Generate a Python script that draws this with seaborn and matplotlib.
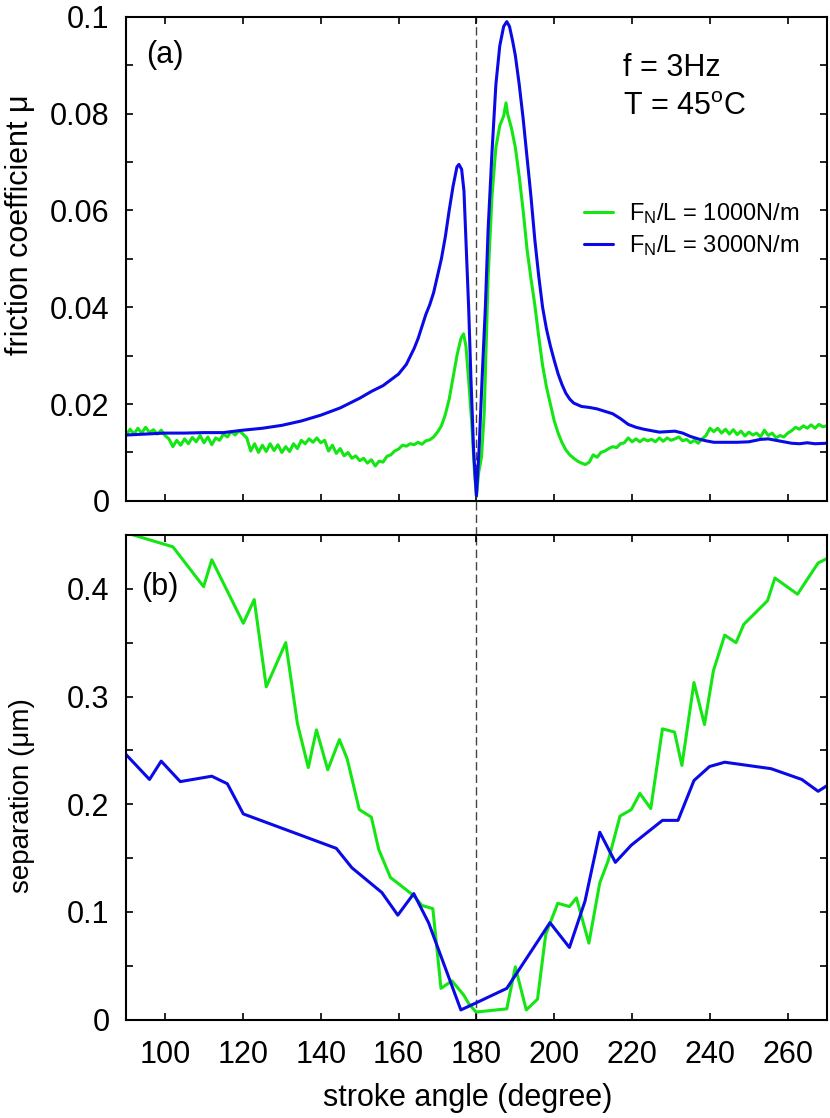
import numpy as np
import pandas as pd
import seaborn as sns
import matplotlib
matplotlib.use('Agg')
import matplotlib.pyplot as plt
from matplotlib.ticker import MultipleLocator, FuncFormatter

# (a) friction coefficient vs stroke angle
ang_a_1000 = [90, 91, 92, 93, 94, 95, 96, 97, 98, 99, 100, 101, 102, 103, 104, 105, 106, 107, 108, 109,
              110, 111, 112, 113, 114, 115, 116, 117, 118, 119, 120, 121, 122, 123, 124, 125, 126, 127, 128, 129,
              130, 131, 132, 133, 134, 135, 136, 137, 138, 139, 140, 141, 142, 143, 144, 145, 146, 147, 148, 149,
              150, 151, 152, 153, 154, 155, 156, 157, 158, 159, 160, 161, 162, 163, 164, 165, 166, 167, 168, 169,
              170, 171, 172, 173, 174, 175, 176, 176.7, 177.3, 178, 178.8, 179.5, 180, 180.6, 181.3, 182, 183, 184,
              185, 186, 187, 187.6, 188, 189, 190, 191, 192, 193, 194, 195, 196, 197, 198, 199, 200, 201, 202, 203,
              204, 205, 206, 207, 208, 209, 210, 211, 212, 213, 214, 215, 216, 217, 218, 219, 220, 221, 222, 223,
              224, 225, 226, 227, 228, 229, 230, 231, 232, 233, 234, 235, 236, 237, 238, 239, 240, 241, 242, 243,
              244, 245, 246, 247, 248, 249, 250, 251, 252, 253, 254, 255, 256, 257, 258, 259, 260, 261, 262, 263,
              264, 265, 266, 267, 268, 269, 270]
mu_1000 = [0.0135, 0.0148, 0.0138, 0.0150, 0.0140, 0.0152, 0.0141, 0.0147, 0.0138, 0.0146, 0.0135, 0.0128, 0.0112, 0.0125, 0.0115, 0.0128, 0.0118, 0.0131, 0.0122, 0.0135,
           0.0120, 0.0132, 0.0116, 0.0130, 0.0125, 0.0138, 0.0132, 0.0143, 0.0136, 0.0145, 0.0138, 0.0130, 0.0103, 0.0118, 0.0100, 0.0115, 0.0102, 0.0118, 0.0104, 0.0116,
           0.0100, 0.0112, 0.0102, 0.0118, 0.0108, 0.0125, 0.0118, 0.0128, 0.0121, 0.0130, 0.0120, 0.0125, 0.0103, 0.0115, 0.0098, 0.0108, 0.0093, 0.0100, 0.0088, 0.0093,
           0.0083, 0.0088, 0.0078, 0.0085, 0.0072, 0.0082, 0.0080, 0.0092, 0.0095, 0.0103, 0.0107, 0.0115, 0.0113, 0.0118, 0.0116, 0.0121, 0.0117, 0.0124, 0.0126, 0.0132,
           0.0142, 0.0155, 0.0178, 0.0210, 0.0255, 0.0300, 0.0335, 0.0345, 0.0320, 0.0250, 0.0160, 0.0060, 0.0010, 0.0060, 0.0090, 0.0180, 0.0460, 0.0630,
           0.0730, 0.0775, 0.0795, 0.0822, 0.0800, 0.0770, 0.0730, 0.0670, 0.0600, 0.0520, 0.0460, 0.0405, 0.0340, 0.0280, 0.0235, 0.0200, 0.0165, 0.0140, 0.0120, 0.0105,
           0.0095, 0.0088, 0.0082, 0.0078, 0.0075, 0.0080, 0.0095, 0.0090, 0.0100, 0.0103, 0.0108, 0.0112, 0.0110, 0.0118, 0.0120, 0.0130, 0.0122, 0.0128, 0.0122, 0.0128,
           0.0124, 0.0127, 0.0122, 0.0130, 0.0123, 0.0130, 0.0125, 0.0128, 0.0132, 0.0124, 0.0127, 0.0120, 0.0125, 0.0119, 0.0128, 0.0135, 0.0150, 0.0143, 0.0150, 0.0140,
           0.0148, 0.0138, 0.0147, 0.0137, 0.0144, 0.0134, 0.0142, 0.0136, 0.0140, 0.0132, 0.0146, 0.0135, 0.0140, 0.0130, 0.0135, 0.0132, 0.0140, 0.0145, 0.0152, 0.0148,
           0.0155, 0.0150, 0.0157, 0.0150, 0.0158, 0.0153, 0.0155]

ang_a_3000 = [90, 95, 100, 105, 110, 115, 120, 125, 130, 135, 140, 145, 150, 153, 156, 158, 160, 162, 164, 165,
              166, 167, 168, 169, 170, 171, 172, 173, 174, 175, 175.5, 176.2, 176.8, 177.3, 178, 178.6, 179.3, 180,
              180.7, 181.5, 182.3, 183, 184, 185, 186, 187, 187.8, 188.5, 189.3, 190, 191, 192, 193, 194, 195, 196,
              197, 198, 199, 200, 201, 202, 203, 204, 205, 207, 209, 211, 213, 215, 217, 219, 221, 223, 225, 227,
              229, 231, 233, 235, 237, 239, 241, 243, 245, 247, 250, 253, 255, 257, 259, 261, 263, 265, 267, 270]
mu_3000 = [0.0136, 0.0138, 0.0140, 0.0140, 0.0141, 0.0141, 0.0146, 0.0150, 0.0156, 0.0165, 0.0177, 0.0192, 0.0212, 0.0226, 0.0238, 0.0250, 0.0262, 0.0282, 0.0315, 0.0335,
           0.0360, 0.0385, 0.0405, 0.0430, 0.0465, 0.0500, 0.0545, 0.0600, 0.0650, 0.0690, 0.0695, 0.0685, 0.0640, 0.0540, 0.0400, 0.0250, 0.0100, 0.0010,
           0.0110, 0.0260, 0.0400, 0.0560, 0.0720, 0.0860, 0.0940, 0.0980, 0.0990, 0.0980, 0.0950, 0.0920, 0.0860, 0.0790, 0.0710, 0.0630, 0.0540, 0.0465,
           0.0400, 0.0355, 0.0320, 0.0290, 0.0262, 0.0240, 0.0222, 0.0210, 0.0202, 0.0195, 0.0193, 0.0190, 0.0185, 0.0180, 0.0170, 0.0158, 0.0152, 0.0148, 0.0145, 0.0142,
           0.0143, 0.0144, 0.0140, 0.0133, 0.0128, 0.0124, 0.0121, 0.0121, 0.0121, 0.0121, 0.0122, 0.0127, 0.0128, 0.0125, 0.0122, 0.0119, 0.0118, 0.0120, 0.0118, 0.0119]

# (b) separation vs stroke angle
ang_b_1000 = [90, 102, 109.9, 112, 120.1, 122.9, 126, 131, 134, 136.8, 138.9, 141.8, 144.8, 146.8, 149.9, 153, 154.9, 157.9,
              160.4, 163.9, 166, 168.8, 170.9, 173.7, 176.7, 178, 179.9, 187.8, 190, 192.8, 195.7, 197.8, 200.9, 203.9,
              205.7, 208.9, 211.7, 213.9, 216.9, 219.8, 222, 224.8, 227.8, 230.9, 232.8, 235.9, 238.6, 240.9, 243.8,
              246.7, 248.7, 254.8, 256.7, 262.5, 267.8, 270]
sep_1000 = [0.452, 0.439, 0.402, 0.427, 0.368, 0.390, 0.309, 0.350, 0.275, 0.234, 0.269, 0.232, 0.260, 0.242, 0.195, 0.188, 0.158, 0.132,
            0.125, 0.115, 0.106, 0.103, 0.029, 0.036, 0.023, 0.015, 0.007, 0.010, 0.049, 0.009, 0.019, 0.079, 0.108, 0.105,
            0.113, 0.071, 0.127, 0.148, 0.189, 0.195, 0.210, 0.196, 0.270, 0.267, 0.236, 0.313, 0.274, 0.324, 0.357,
            0.350, 0.367, 0.389, 0.410, 0.395, 0.424, 0.428]

ang_b_3000 = [90, 96, 99, 103.9, 112, 116, 120.1, 144, 148, 155.7, 159.8, 163.9, 167.7, 176, 179.6, 187.8, 198.9, 203.9,
              207.9, 211.7, 215.7, 219.8, 227.8, 231.8, 235.9, 239.9, 243.8, 255.7, 263.6, 267.8, 270]
sep_3000 = [0.246, 0.223, 0.240, 0.221, 0.226, 0.219, 0.191, 0.159, 0.141, 0.118, 0.097, 0.117, 0.090, 0.009, 0.015, 0.029, 0.090, 0.067,
            0.110, 0.174, 0.146, 0.162, 0.185, 0.185, 0.222, 0.235, 0.239, 0.233, 0.223, 0.212, 0.217]

labels = ['F$_{\\rm N}$/L = 1000N/m', 'F$_{\\rm N}$/L = 3000N/m']
colors = ['#14e614', '#0a0ae6']

sns.set_style("ticks")
plt.rcParams['font.family'] = ['Liberation Sans', 'DejaVu Sans']
plt.rcParams['mathtext.fontset'] = 'custom'
plt.rcParams['mathtext.rm'] = 'Liberation Sans'
plt.rcParams['mathtext.it'] = 'Liberation Sans:italic'
for k in ['text.color', 'axes.labelcolor', 'xtick.color', 'ytick.color', 'axes.edgecolor']:
    plt.rcParams[k] = 'black'

fig = plt.figure(figsize=(8.3, 11.18), dpi=100)
ax1 = fig.add_axes([0.152, 0.552, 0.844, 0.433])
ax2 = fig.add_axes([0.152, 0.088, 0.844, 0.4335])

sns.lineplot(x=ang_a_1000, y=mu_1000, ax=ax1, color=colors[0], lw=2.2, label=labels[0], estimator=None)
sns.lineplot(x=ang_a_3000, y=mu_3000, ax=ax1, color=colors[1], lw=2.2, label=labels[1], estimator=None)
sns.lineplot(x=ang_b_1000, y=sep_1000, ax=ax2, color=colors[0], lw=2.2, estimator=None)
sns.lineplot(x=ang_b_3000, y=sep_3000, ax=ax2, color=colors[1], lw=2.2, estimator=None)

fmt = FuncFormatter(lambda v, p: '%g' % round(v, 4))
for ax in (ax1, ax2):
    ax.set_xlim(90, 270)
    ax.xaxis.set_major_locator(MultipleLocator(20))
    ax.tick_params(which='both', direction='in', top=True, right=True, length=5, width=1.2,
                   labelsize=22)
    ax.tick_params(axis='x', pad=15)
    ax.tick_params(axis='y', pad=12)
    for s in ax.spines.values():
        s.set_linewidth(1.5)
    ax.yaxis.set_major_formatter(fmt)

# dashed line at 180 degrees running through both panels
ax1.axvline(180, ymin=-0.07, ymax=1, color='#444444', lw=1, ls=(0, (6, 3)), clip_on=False, zorder=0)
ax2.axvline(180, color='#444444', lw=1, ls=(0, (6, 3)), zorder=0)

ax1.set_ylim(0, 0.1)
ax1.yaxis.set_major_locator(MultipleLocator(0.02))
ax1.yaxis.set_minor_locator(MultipleLocator(0.01))
ax1.set_xticklabels([])
ax1.set_xlabel('')
ax1.set_ylabel('friction coefficient μ', fontsize=22)
ax1.yaxis.set_label_coords(-0.13, 0.57)

ax2.set_ylim(0, 0.45)
ax2.yaxis.set_major_locator(MultipleLocator(0.1))
ax2.yaxis.set_minor_locator(MultipleLocator(0.05))
ax2.set_xlabel('stroke angle (degree)', fontsize=22)
ax2.xaxis.set_label_coords(0.488, -0.13)
ax2.set_ylabel('separation (μm)', fontsize=20)
ax2.yaxis.set_label_coords(-0.13, 0.462)

ax1.text(0.028, 0.921, '(a)', transform=ax1.transAxes, fontsize=22, va='center', ha='left')
ax2.text(0.022, 0.893, '(b)', transform=ax2.transAxes, fontsize=22, va='center', ha='left')
ax1.text(0.709, 0.895, 'f = 3Hz', transform=ax1.transAxes, fontsize=22, va='center', ha='left')
ax1.text(0.709, 0.8145, 'T = 45$^{\\rm o}$C', transform=ax1.transAxes, fontsize=22, va='center', ha='left')

ax1.legend(loc='center left', bbox_to_anchor=(0.654, 0.56), frameon=False, fontsize=17,
           handlelength=1.2, handletextpad=0.7, borderpad=0, borderaxespad=0, labelspacing=0.3)

fig.savefig('out.png', dpi=100)
